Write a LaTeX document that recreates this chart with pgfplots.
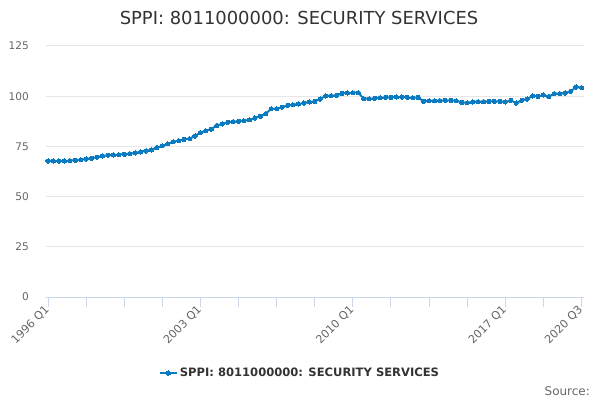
\documentclass[border=0pt]{standalone}
\usepackage{pgfplots}
\pgfplotsset{compat=1.18}
\usepackage{pgfplotstable}
\usepackage{fontspec}
\setmainfont{DejaVu Sans}
\definecolor{serie}{HTML}{0A7BC1}
\definecolor{gridc}{HTML}{E6E6E6}
\definecolor{axisc}{HTML}{CCD6EB}
\definecolor{lab}{HTML}{666666}
\definecolor{ttl}{HTML}{333333}
\pgfplotstableread{
i v
0 67.75
1 67.75
2 67.7
3 67.75
4 67.9
5 68.1
6 68.4
7 68.75
8 69.1
9 69.6
10 70.25
11 70.6
12 70.75
13 70.9
14 71.1
15 71.4
16 71.75
17 72.25
18 72.75
19 73.25
20 74.4
21 75.25
22 76.25
23 77.3
24 77.9
25 78.5
26 78.9
27 80.2
28 81.9
29 82.8
30 83.6
31 85.4
32 86.2
33 87.0
34 87.3
35 87.5
36 87.8
37 88.2
38 89.1
39 90.0
40 91.3
41 93.7
42 93.8
43 94.5
44 95.4
45 95.7
46 96.1
47 96.6
48 97.1
49 97.4
50 98.6
51 100.1
52 100.25
53 100.4
54 101.4
55 101.6
56 101.75
57 101.75
58 98.75
59 98.75
60 98.9
61 99.25
62 99.4
63 99.4
64 99.6
65 99.6
66 99.4
67 99.25
68 99.4
69 97.4
70 97.75
71 97.75
72 97.75
73 97.9
74 97.9
75 97.75
76 96.9
77 96.75
78 97.1
79 97.25
80 97.3
81 97.4
82 97.4
83 97.4
84 97.1
85 97.9
86 96.6
87 97.9
88 98.6
89 100.1
90 99.9
91 100.6
92 99.8
93 101.3
94 101.3
95 101.6
96 102.4
97 104.6
98 104.3
}\sppi
\begin{document}
\begin{tikzpicture}[x=1bp,y=1bp]
\path[use as bounding box] (0,0) rectangle (600,400);
\node[font=\fontsize{18}{21}\selectfont, text=ttl] at (299,382) {SPPI: 8011000000: SECURITY SERVICES};
\begin{axis}[
  at={(46bp,103bp)}, anchor=south west,
  scale only axis, width=538bp, height=251bp,
  xmin=-0.37, xmax=98.46,
  ymin=0, ymax=125,
  axis lines*=left,
  y axis line style={draw=none},
  x axis line style={draw=axisc, line width=1bp},
  ytick={0,25,...,125},
  ymajorgrids,
  grid style={draw=gridc, line width=1bp},
  ytick style={draw=none},
  xtick={0,28,56,84,98},
  xticklabels={1996 Q1,2003 Q1,2010 Q1,2017 Q1,2020 Q3},
  minor xtick={7,14,21,35,42,49,63,70,77,91},
  xtick style={draw=axisc, line width=1bp},
  xminorgrids=false,
  major tick length=10bp,
  minor tick length=10bp,
  tick align=outside,
  tick label style={font=\fontsize{11.2}{13}\selectfont, text=lab},
  /pgf/number format/assume math mode=true,
  xticklabel style={rotate=45, anchor=east, inner sep=1bp},
  yticklabel style={anchor=east, inner sep=0pt, xshift=-7bp, font=\fontsize{10.6}{12}\selectfont},
  legend style={at={(0.472,-0.303)}, anchor=center, draw=none, fill=none,
    font=\fontsize{11.6}{14}\bfseries\selectfont, text=ttl,
    legend cell align=left},
  clip=false,
]
\addplot[serie, line width=2bp, mark=*, mark size=2.1bp, mark options={fill=serie, draw=serie, line width=0pt}] table[x=i, y=v] {\sppi};
\addlegendentry{SPPI: 8011000000: SECURITY SERVICES}
\end{axis}
\node[anchor=east, inner sep=0pt, font=\fontsize{12}{14}\selectfont, text=lab] at (590,9) {Source:};
\end{tikzpicture}
\end{document}
